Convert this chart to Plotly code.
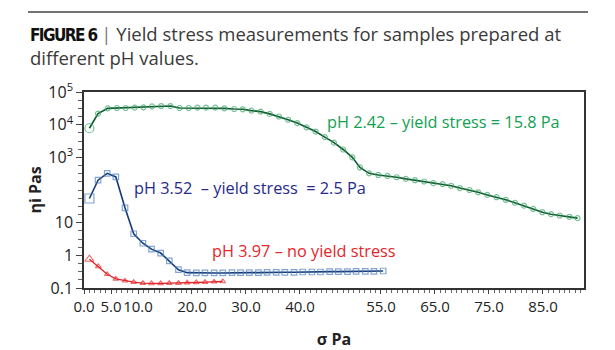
import plotly.graph_objects as go

# ---- data ----
green_x = [1.0, 2.6, 4.4, 6.1, 7.7, 9.4, 11.0, 12.6, 14.3, 16.0, 17.7, 19.4, 21.0, 22.6, 24.3, 26.0,
           27.8, 29.4, 31.0, 32.7, 34.4, 36.1, 37.8, 39.5, 41.2, 42.9, 44.6, 46.3, 48.0, 49.7, 51.1,
           52.8, 54.5, 56.2, 57.9, 59.6, 61.3, 63.0, 64.7, 66.4, 68.0, 69.6, 71.4, 73.0, 74.7, 76.4,
           78.1, 79.8, 81.5, 83.2, 84.9, 86.5, 88.1, 89.9, 91.4]
green_logy = [3.89, 4.34, 4.50, 4.51, 4.51, 4.52, 4.53, 4.56, 4.57, 4.57, 4.51, 4.51, 4.52, 4.52, 4.52, 4.50,
              4.48, 4.47, 4.43, 4.40, 4.33, 4.25, 4.15, 4.05, 3.92, 3.79, 3.62, 3.45, 3.24, 3.00, 2.69,
              2.51, 2.46, 2.43, 2.39, 2.34, 2.30, 2.26, 2.21, 2.18, 2.13, 2.06, 2.00, 1.93, 1.85, 1.78,
              1.70, 1.61, 1.52, 1.42, 1.32, 1.26, 1.22, 1.18, 1.14]

blue_x = [1.0, 2.6, 4.3, 5.9, 7.6, 9.2, 10.9, 12.5, 14.2, 15.8, 17.5, 19.1, 20.8, 22.4, 24.1, 25.7,
          27.4, 29.0, 30.6, 32.3, 33.9, 35.6, 37.2, 38.9, 40.5, 42.2, 43.8, 45.5, 47.1, 48.8, 50.4,
          52.1, 53.7, 55.4]
blue_logy = [1.74, 2.30, 2.51, 2.40, 1.45, 0.66, 0.37, 0.19, 0.07, -0.17, -0.44, -0.53, -0.54, -0.54,
             -0.54, -0.54, -0.53, -0.53, -0.53, -0.53, -0.52, -0.52, -0.52, -0.52, -0.51, -0.51, -0.51,
             -0.50, -0.50, -0.50, -0.49, -0.49, -0.49, -0.48]

red_x = [1.0, 2.65, 4.3, 5.9, 7.6, 9.2, 10.9, 12.5, 14.2, 15.8, 17.5, 19.1, 20.8, 22.4, 24.1, 25.7]
red_logy = [-0.12, -0.34, -0.58, -0.72, -0.78, -0.82, -0.85, -0.86, -0.86, -0.85, -0.85, -0.84,
            -0.83, -0.82, -0.81, -0.80]

x_tickvals = [0, 5, 10, 20, 30, 40, 55, 65, 75, 85]
y_tickvals = [0.1, 1, 10, 1000, 1e4, 1e5]
y_ticktext = ["0.1", "1", "10", "10<sup>3</sup>", "10<sup>4</sup>", "10<sup>5</sup>"]

labels = ["pH 2.42 – yield stress = 15.8 Pa",
          "pH 3.52  – yield stress  = 2.5 Pa",
          "pH 3.97 – no yield stress"]

FONT = "Open Sans, Noto Sans, sans-serif"

def to_lin(v):
    return [10 ** a for a in v]

def sizes(n, first, rest):
    return [first] + [rest] * (n - 1)

fig = go.Figure()
fig.add_trace(go.Scatter(
    x=green_x, y=to_lin(green_logy), mode="lines+markers",
    line=dict(color="#0d5a2c", width=1.6),
    marker=dict(symbol="circle-open", color="#3fa56b", size=sizes(len(green_x), 9, 5), line=dict(width=1.2)),
    showlegend=False))
fig.add_trace(go.Scatter(
    x=blue_x, y=to_lin(blue_logy), mode="lines+markers",
    line=dict(color="#163a78", width=1.6),
    marker=dict(symbol="square-open", color="#4d7fbf", size=sizes(len(blue_x), 9, 5.5), line=dict(width=1.2)),
    showlegend=False))
fig.add_trace(go.Scatter(
    x=red_x, y=to_lin(red_logy), mode="lines+markers",
    line=dict(color="#e3262b", width=1.4),
    marker=dict(symbol="triangle-up-open", color="#e3262b", size=sizes(len(red_x), 8, 5), line=dict(width=1.1)),
    showlegend=False))

ann_font = dict(family=FONT, size=16.3)
fig.add_annotation(x=66.6, y=4.09, xref="x", yref="y", text=labels[0], showarrow=False,
                   font=dict(ann_font, color="#12a152"))
fig.add_annotation(x=30.7, y=2.06, xref="x", yref="y", text=labels[1], showarrow=False,
                   font=dict(ann_font, color="#262a8a"))
fig.add_annotation(x=40.7, y=0.14, xref="x", yref="y", text=labels[2], showarrow=False,
                   font=dict(ann_font, color="#e3262b"))

# figure caption
fig.add_annotation(
    xref="paper", yref="paper", x=-0.112, y=1.375, xanchor="left", yanchor="top", align="left",
    showarrow=False,
    text=("<span style='font-family:\"DejaVu Sans Condensed\",\"Liberation Sans Narrow\",\"Open Sans\";"
          "font-stretch:condensed;font-size:17px;letter-spacing:-1.6px;color:#111'>"
          "<b>FIGURE 6</b></span> <span style='color:#777'>|</span> Yield stress measurements for samples prepared at"
          "<br>different pH values."),
    font=dict(family=FONT, size=18.5, color="#3a3a3a"))
fig.add_shape(type="line", xref="paper", yref="paper", x0=-0.112, x1=1.008, y0=1.408, y1=1.408,
              line=dict(color="#444", width=1.6))

minor_y = []
for k in range(-4, 20):
    if k % 4 != 0:
        minor_y.append(10 ** (k / 4))
minor_y.append(100)

fig.update_xaxes(
    range=[0, 92.6], tickvals=x_tickvals, tickformat=".1f", tickangle=0, automargin=False,
    ticks="outside", ticklen=4, tickcolor="#444", tickwidth=1,
    minor=dict(dtick=1, ticks="outside", ticklen=3, tickcolor="#666"),
    showline=True, linecolor="#333", linewidth=1.5, mirror=True,
    showgrid=False, zeroline=False,
    tickfont=dict(family=FONT, size=15, color="#222"),
    title=dict(text="<b>σ Pa</b>", font=dict(family=FONT, size=16, color="#222"), standoff=20))
fig.update_yaxes(
    type="log", range=[-1, 5], tickvals=y_tickvals, ticktext=y_ticktext, automargin=False,
    ticks="outside", ticklen=6, tickcolor="#444", tickwidth=1,
    minor=dict(tickmode="array", tickvals=minor_y, ticks="outside", ticklen=4, tickcolor="#666"),
    showline=True, linecolor="#333", linewidth=1.5, mirror=True,
    showgrid=False, zeroline=False,
    tickfont=dict(family=FONT, size=16, color="#222"),
    title=dict(text="<b>ηi Pas</b>", font=dict(family=FONT, size=16, color="#222"), standoff=3))

fig.update_layout(
    width=615, height=350, autosize=False,
    margin=dict(l=84, r=31, t=92, b=62),
    paper_bgcolor="white", plot_bgcolor="white",
    font=dict(family=FONT))

fig.write_html("out.html")
